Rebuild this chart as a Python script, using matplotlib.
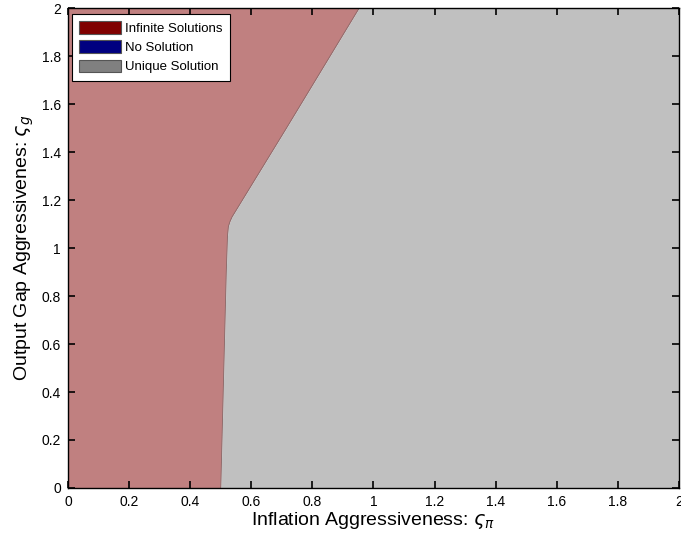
import matplotlib
matplotlib.use("Agg")
import matplotlib.pyplot as plt
from matplotlib.patches import Patch

plt.rcParams['font.family'] = ['Liberation Sans', 'DejaVu Sans']
plt.rcParams['mathtext.fontset'] = 'dejavusans'

# Boundary between determinacy regions (phi_pi as function of phi_g)
boundary_g = [0.0, 0.5, 0.9, 1.05, 1.09, 1.11, 1.13, 1.5, 2.0]
boundary_pi = [0.50, 0.51, 0.518, 0.522, 0.525, 0.53, 0.537, 0.715, 0.953]

legend_labels = ["Infinite Solutions", "No Solution", "Unique Solution"]
legend_colors = ["#800000", "#000080", "#808080"]
region_pink = "#C08080"
region_gray = "#C0C0C0"

xticks = [0, 0.2, 0.4, 0.6, 0.8, 1, 1.2, 1.4, 1.6, 1.8, 2]
yticks = [0, 0.2, 0.4, 0.6, 0.8, 1, 1.2, 1.4, 1.6, 1.8, 2]

fig = plt.figure(figsize=(6.81, 5.41), dpi=100)
ax = fig.add_axes([0.0999, 0.098, 0.8971, 0.887])

ax.fill_betweenx(boundary_g, 0, boundary_pi, color=region_pink, lw=0)
ax.fill_betweenx(boundary_g, boundary_pi, 2, color=region_gray, lw=0)
ax.plot(boundary_pi, boundary_g, color="#8a6a6a", lw=0.6)

ax.set_xlim(0, 2)
ax.set_ylim(0, 2)
ax.set_xticks(xticks)
ax.set_yticks(yticks)
ax.set_xticklabels([f"{t:g}" for t in xticks])
ax.set_yticklabels([f"{t:g}" for t in yticks])
ax.tick_params(direction="in", top=True, right=True, length=5, width=1.2,
               labelsize=10, pad=5)
for s in ax.spines.values():
    s.set_linewidth(1.0)

ax.set_xlabel(r"Inflation Aggressiveness: $\varsigma_\pi$", fontsize=14, labelpad=1)
ax.set_ylabel(r"Output Gap Aggressivenes: $\varsigma_g$", fontsize=14, labelpad=4)

handles = [Patch(facecolor=c, edgecolor="#555555", lw=0.8) for c in legend_colors]
leg = ax.legend(handles, legend_labels, loc="upper left", fontsize=9.5,
                fancybox=False, framealpha=1, edgecolor="black",
                handlelength=3.2, handleheight=1.1, handletextpad=0.3,
                borderpad=0.55, labelspacing=0.4, borderaxespad=0,
                bbox_to_anchor=(0.0065, 0.9875))
leg.get_frame().set_linewidth(0.8)

fig.savefig("out.png", dpi=100)
